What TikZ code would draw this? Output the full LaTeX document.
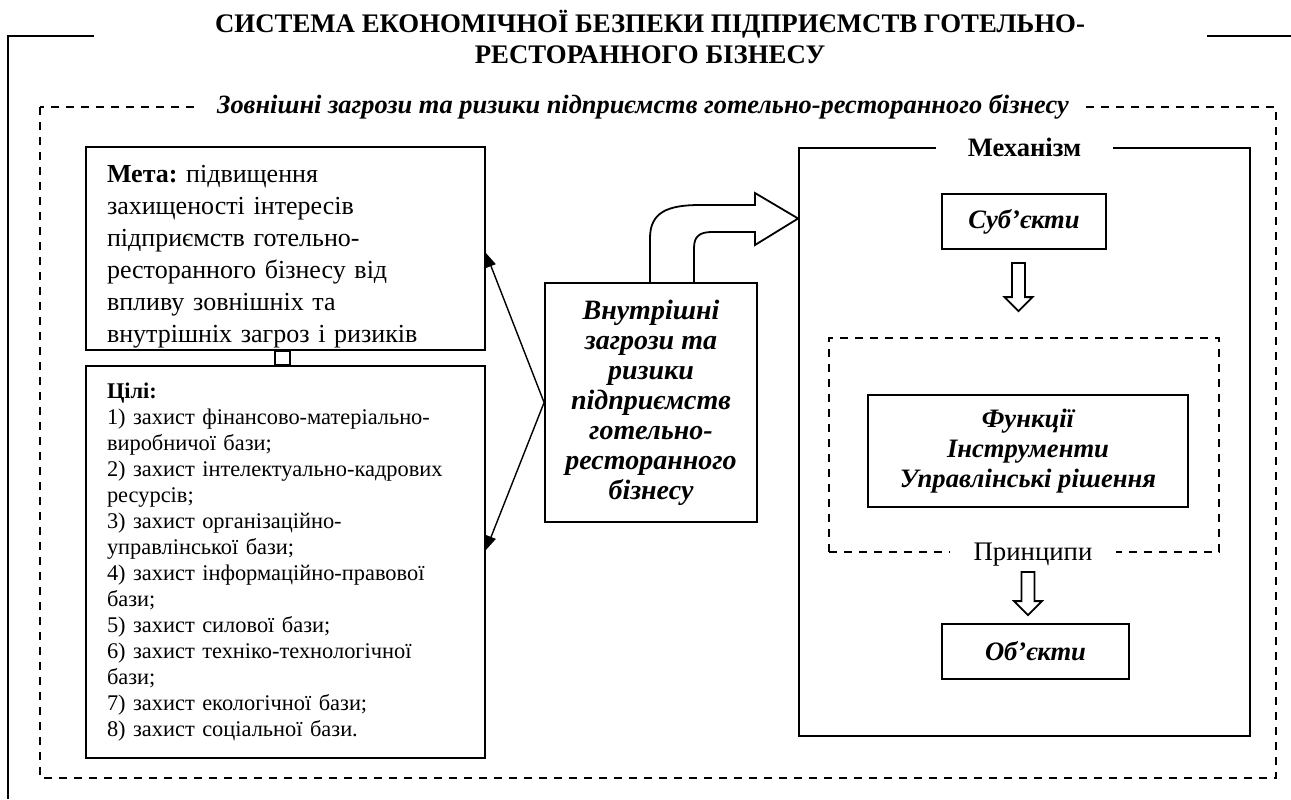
\documentclass[tikz,border=0pt]{standalone}
\usepackage{fontspec}
\setmainfont{Liberation Serif}
\usepackage{tikz}
\usetikzlibrary{arrows.meta, positioning, calc}
\frenchspacing

\tikzset{
    box/.style={draw, line width=0.9pt, inner sep=0pt, align=center},
    framedash/.style={line width=0.9pt, dash pattern=on 4pt off 3.5pt},
    gaplbl/.style={fill=white, inner ysep=1pt},
    thinarrow/.style={line width=0.7pt, -{Triangle[length=7pt,width=5pt]}},
    hollow/.style={line width=0.9pt, to path={let \p1=(\tikztostart), \p2=(\tikztotarget) in
        (\x1-3.25pt,\y1) -- (\x1-3.25pt,\y2+7pt) -- (\x1-7pt,\y2+7pt) -- (\x1,\y2)
        -- (\x1+7pt,\y2+7pt) -- (\x1+3.25pt,\y2+7pt) -- (\x1+3.25pt,\y1) -- cycle}},
    bi/.style={font=\fontsize{13.3}{15}\selectfont\bfseries\itshape},
}

\begin{document}
\begin{tikzpicture}[x=0.5pt, y=-0.5pt]
    \useasboundingbox (0,0) rectangle (1291,799);

    % Title and outer frame
    \node[align=center, font=\fontsize{13.4}{15.5}\selectfont\bfseries] (title) at (650,37)
        {СИСТЕМА ЕКОНОМІЧНОЇ БЕЗПЕКИ ПІДПРИЄМСТВ ГОТЕЛЬНО-\\РЕСТОРАННОГО БІЗНЕСУ};
    \draw[line width=0.9pt] (94,36) -- (8,36) -- (8,799);
    \draw[line width=0.9pt] (1207,36) -- (1291,36);

    % External threats
    \draw[framedash] (40,107) rectangle (1276,778);
    \node[gaplbl, inner xsep=8pt, font=\fontsize{13.2}{15}\selectfont\bfseries\itshape] (ext) at (643,107)
        {Зовнішні загрози та ризики підприємств готельно-ресторанного бізнесу};

    % Goal and aims
    \node[box, align=left, text width=178.5pt, inner xsep=10.5pt, minimum height=101.5pt,
          font=\fontsize{13}{16}\selectfont] (goal) at (285.5,248.5)
        {\rule{0pt}{17pt}\textbf{Мета:} підвищення\\ захищеності інтересів\\ підприємств готельно-\\
         ресторанного бізнесу від\\ впливу зовнішніх та\\ внутрішніх загроз і ризиків};
    \node[box, align=left, text width=178.5pt, inner xsep=10.5pt, minimum height=196pt,
          font=\fontsize{11.2}{13}\selectfont] (aims) at (285.5,562)
        {\textbf{Цілі:}\\
         1) захист фінансово-матеріально-\\ виробничої бази;\\
         2) захист інтелектуально-кадрових\\ ресурсів;\\
         3) захист організаційно-\\ управлінської бази;\\
         4) захист інформаційно-правової\\ бази;\\
         5) захист силової бази;\\
         6) захист техніко-технологічної\\ бази;\\
         7) захист екологічної бази;\\
         8) захист соціальної бази.};
    \draw[line width=0.9pt] ([xshift=-5.25pt]goal.south) rectangle ([xshift=2.25pt]aims.north);

    % Internal threats
    \node[box, bi, font=\fontsize{14}{15}\selectfont\bfseries\itshape, minimum width=106pt,
          minimum height=119.5pt] (threat) at (651,402.5)
        {Внутрішні\\ загрози та\\ ризики\\ підприємств\\ готельно-\\ ресторанного\\ бізнесу};
    \draw[thinarrow] (threat.west) -- ([yshift=-2.25pt]goal.east);
    \draw[thinarrow] (threat.west) -- ([yshift=6pt]aims.east);

    % Mechanism
    \node[box, minimum width=225.5pt, minimum height=294pt] (mech) at (1024.5,442) {};
    \node[gaplbl, inner xsep=16pt, font=\fontsize{13.3}{15}\selectfont\bfseries] (mechlbl) at (mech.north) {Механізм};
    \node[box, bi, minimum width=82pt, minimum height=27.5pt] (subj) at (1024,221.5) {Суб’єкти};
    \node[box, framedash, minimum width=195pt, minimum height=107pt] (funcs) at (1024,445) {};
    \node[box, bi, minimum width=160pt, minimum height=56pt] (tools) at (1028,451)
        {Функції\\ Інструменти\\ Управлінські рішення};
    \node[gaplbl, inner xsep=12pt, font=\fontsize{13.4}{15}\selectfont] (prin) at (1033,555) {Принципи};
    \node[box, bi, minimum width=93.5pt, minimum height=27.5pt] (obj) at (1035.5,651.5) {Об’єкти};
    \draw[hollow] ([xshift=-2.75pt,yshift=-6.5pt]subj.south) to ([yshift=13pt]funcs.north);
    \draw[hollow] ([xshift=2pt,yshift=-9.5pt]funcs.south) to ([yshift=4pt]obj.north);

    % Curved arrow into the mechanism
    \draw[line width=0.9pt] (threat.north -| 650,0) -- (650,238)
        .. controls (650,212) and (668,205) .. (700,205) -- (755,205) -- (755,193)
        -- (mech.west |- 0,218.5) -- (755,245) -- (755,232) -- (712,232)
        .. controls (700,232) and (694,236) .. (694,248) -- (threat.north -| 694,0);
\end{tikzpicture}
\end{document}
